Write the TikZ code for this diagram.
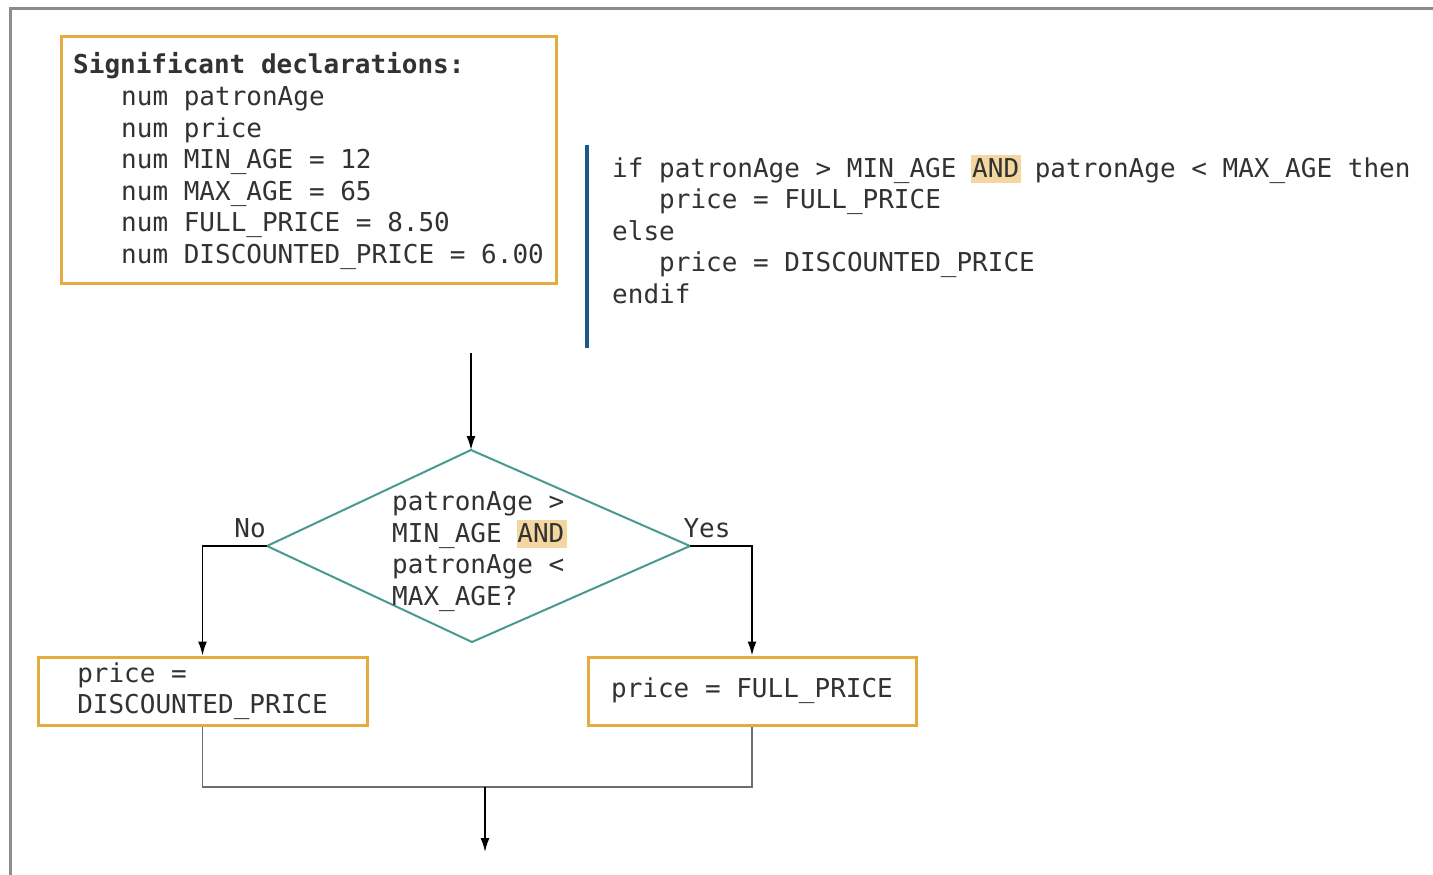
\documentclass[tikz,border=0pt]{standalone}
\usepackage{fontspec}
\setmonofont{DejaVu Sans Mono}
\newfontfamily\codefont{DejaVu Sans Mono}
\usetikzlibrary{shapes.geometric,arrows.meta}

\definecolor{ink}{RGB}{50,50,50}
\definecolor{boxorange}{RGB}{228,172,62}
\definecolor{hilite}{RGB}{244,214,160}
\definecolor{teal}{RGB}{72,154,144}
\definecolor{barblue}{RGB}{30,88,136}
\definecolor{framegray}{RGB}{140,140,140}
\definecolor{joingray}{RGB}{110,110,110}

\tikzset{
  x=1pt, y=-1pt,
  codetext/.style={font=\codefont\fontsize{26}{31.5}\selectfont, text=ink, inner sep=0pt},
  procbox/.style={draw=boxorange, line width=3pt, fill=white, inner sep=0pt,
    align=left, font=\codefont\fontsize{26}{31}\selectfont, text=ink},
  decisionline/.style={draw=teal, line width=2pt, line join=miter},
  flow/.style={draw=black, line width=1.6pt, -{Latex[length=14pt,width=9pt]}},
  joinline/.style={draw=joingray, line width=1.4pt},
  frameline/.style={draw=framegray, line width=3pt},
}

\begin{document}
\begin{tikzpicture}
\useasboundingbox (0,0) rectangle (1433,875);
\fill[white] (0,0) rectangle (1433,875);

% outer frame (top and left edges)
\draw[frameline] (1433,9) -- (10,9) -- (10,875);

% declarations box
\node[draw=boxorange, line width=3pt, minimum width=495pt, minimum height=246pt, inner sep=0pt] (decl) at (308.5,160) {};
\node[codetext, anchor=base west, font=\codefont\bfseries\fontsize{26}{31.5}\selectfont] (dtitle) at (73,74) {Significant declarations:};
\node[codetext, anchor=base west] (d1) at (121,105.5) {num patronAge};
\node[codetext, anchor=base west] (d2) at (121,137) {num price};
\node[codetext, anchor=base west] (d3) at (121,168.5) {num MIN\_AGE = 12};
\node[codetext, anchor=base west] (d4) at (121,200) {num MAX\_AGE = 65};
\node[codetext, anchor=base west] (d5) at (121,231.5) {num FULL\_PRICE = 8.50};
\node[codetext, anchor=base west] (d6) at (121,263) {num DISCOUNTED\_PRICE = 6.00};

% pseudocode with margin bar
\draw[line width=4pt, barblue] (587,145) -- (587,348);
\fill[hilite] (971,155) rectangle (1021,183);
\node[codetext, anchor=base west] (p1) at (612,177) {if patronAge > MIN\_AGE AND patronAge < MAX\_AGE then};
\node[codetext, anchor=base west] (p2) at (659,208.5) {price = FULL\_PRICE};
\node[codetext, anchor=base west] (p3) at (612,240) {else};
\node[codetext, anchor=base west] (p4) at (659,271.5) {price = DISCOUNTED\_PRICE};
\node[codetext, anchor=base west] (p5) at (612,303) {endif};

% decision diamond, drawn through its four corners
\coordinate (start) at (471,353);
\coordinate (dtop) at (471,450);
\coordinate (dright) at (690,546);
\coordinate (dbot) at (472,642);
\coordinate (dleft) at (267,546);
\draw[decisionline] (dtop) -- (dright) -- (dbot) -- (dleft) -- cycle;
\fill[hilite] (517,520) rectangle (567,548);
\node[codetext, anchor=base west] (q1) at (392,510.5) {patronAge >};
\node[codetext, anchor=base west] (q2) at (392,542) {MIN\_AGE AND};
\node[codetext, anchor=base west] (q3) at (392,573.5) {patronAge <};
\node[codetext, anchor=base west] (q4) at (392,605) {MAX\_AGE?};

% process boxes
\node[procbox, minimum width=329pt, minimum height=68pt] (disc) at (202.5,691) {price =\\DISCOUNTED\_PRICE};
\node[procbox, minimum width=328pt, minimum height=68pt] (full) at (752,691) {price = FULL\_PRICE};

\node[codetext, anchor=base] (no) at (250,537) {No};
\node[codetext, anchor=base] (yes) at (707,537) {Yes};

% connectors
\draw[flow] (start) -- (dtop);
\draw[flow] (dleft) -| (disc.north);
\draw[flow] (dright) -| (full.north);

\coordinate (join) at (485,787);
\coordinate (finish) at (485,852);
\draw[joinline] (disc.south) -- (disc.south |- join) -- (full.south |- join) -- (full.south);
\draw[flow] (join) -- (finish);
\end{tikzpicture}
\end{document}
